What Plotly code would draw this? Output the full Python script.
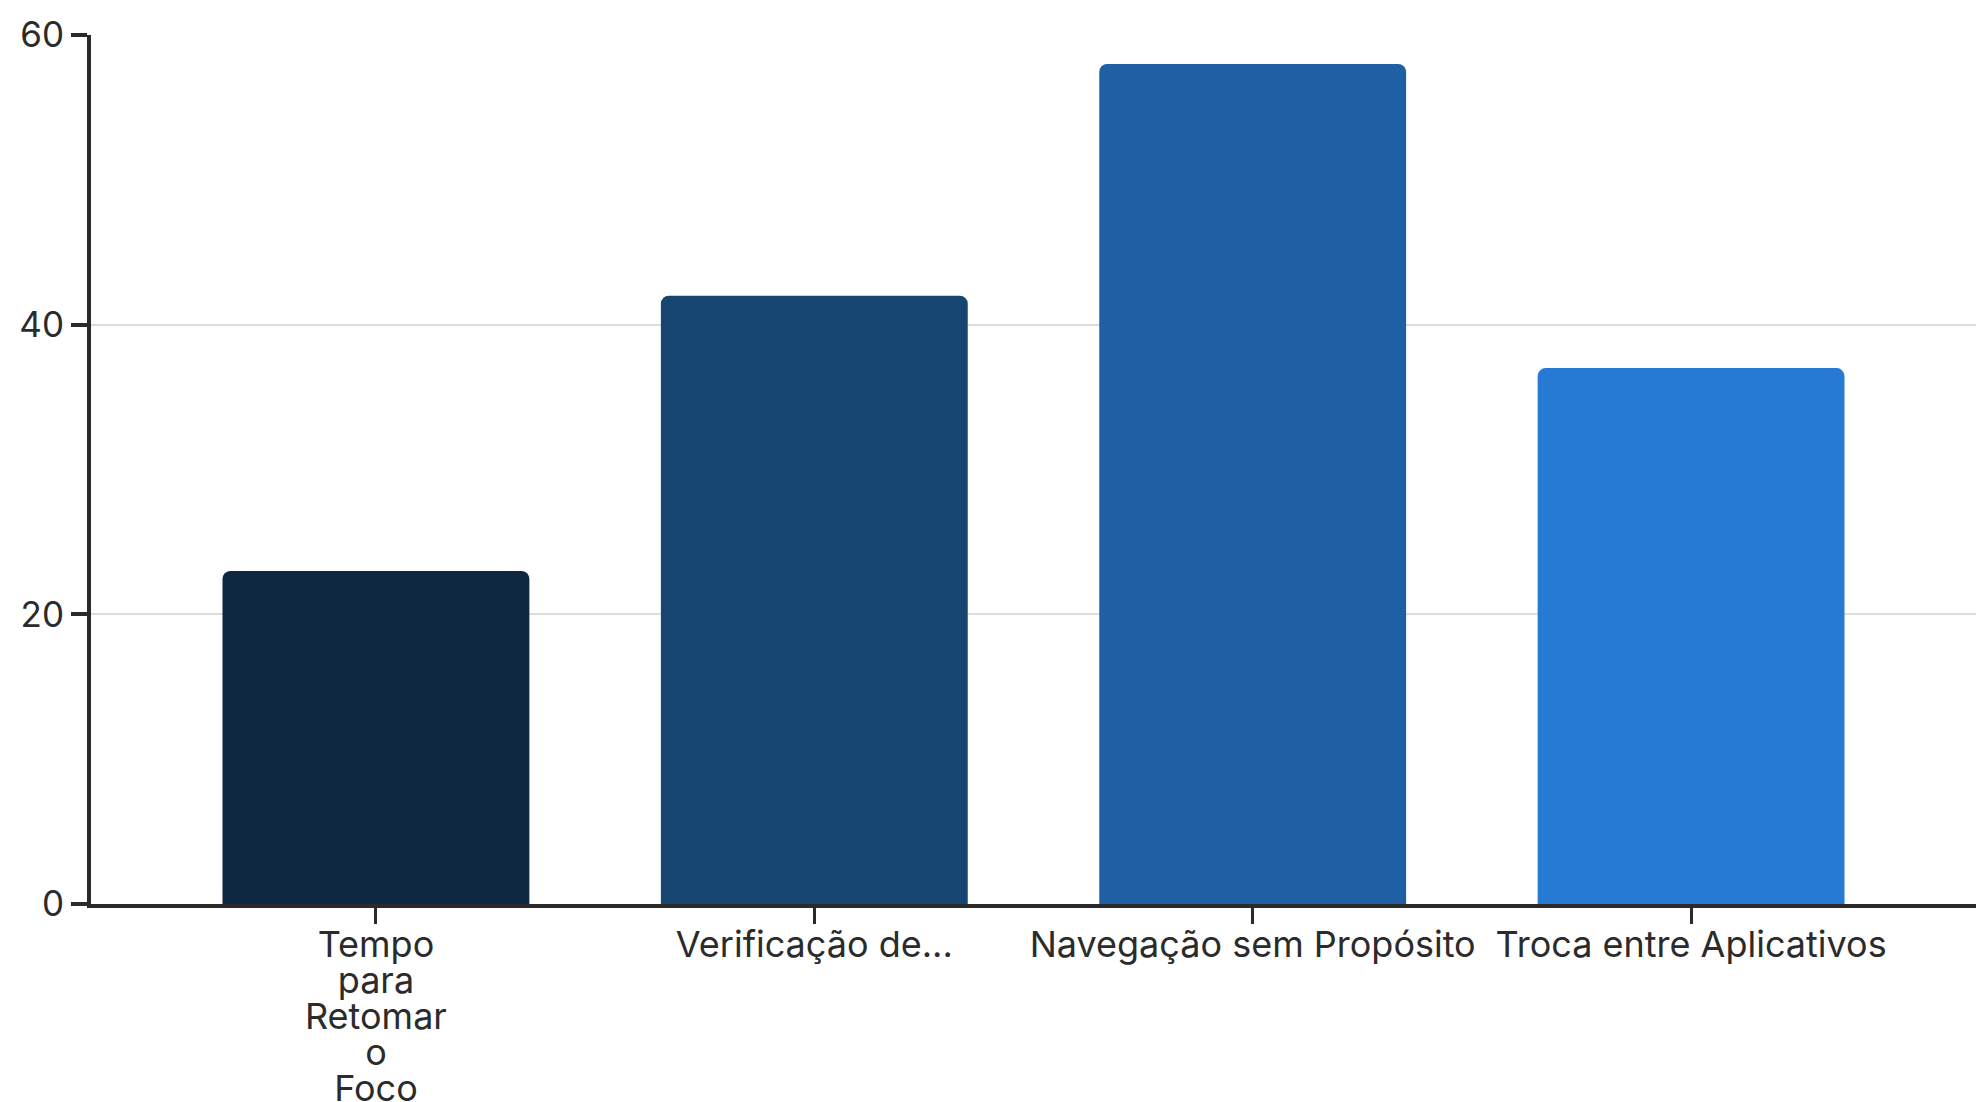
import plotly.graph_objects as go

categories = ["Tempo<br>para<br>Retomar<br>o<br>Foco", "Verificação de...", "Navegação sem Propósito", "Troca entre Aplicativos"]
values = [23, 42, 58, 37]
colors = ["#0E2841", "#164572", "#1F5FA3", "#267AD3"]
y_ticks = [0, 20, 40, 60]

LABEL_PX = 36


def big(label):
    return "<br>".join(f'<span style="font-size:{LABEL_PX}px">{part}</span>' for part in label.split("<br>"))


fig = go.Figure(go.Bar(
    x=list(range(len(categories))),
    y=values,
    marker=dict(color=colors, line=dict(width=0)),
    width=0.7,
))

fig.update_layout(
    width=1986, height=1102,
    margin=dict(l=91, r=10, t=35, b=198),
    paper_bgcolor="white", plot_bgcolor="white",
    font=dict(family="Inter", size=35, color="#2b2b2b"),
    barcornerradius=8,
    showlegend=False,
)
fig.update_xaxes(
    tickvals=list(range(len(categories))), ticktext=[big(c) for c in categories],
    tickfont=dict(size=27.7),
    range=[-0.65, 3.65], automargin=False,
    showline=True, linecolor="#2a2a2a", linewidth=4,
    ticks="outside", ticklen=16, tickwidth=3, tickcolor="#2a2a2a",
    showgrid=False, zeroline=False,
)
fig.update_yaxes(
    range=[0, 60], tickvals=y_ticks, automargin=False,
    tickfont=dict(size=35),
    showline=True, linecolor="#2a2a2a", linewidth=4,
    ticks="outside", ticklen=16, tickwidth=4, tickcolor="#2a2a2a",
    showgrid=True, gridcolor="#dddddd", gridwidth=2,
    zeroline=False,
)

fig.write_html("out.html")
